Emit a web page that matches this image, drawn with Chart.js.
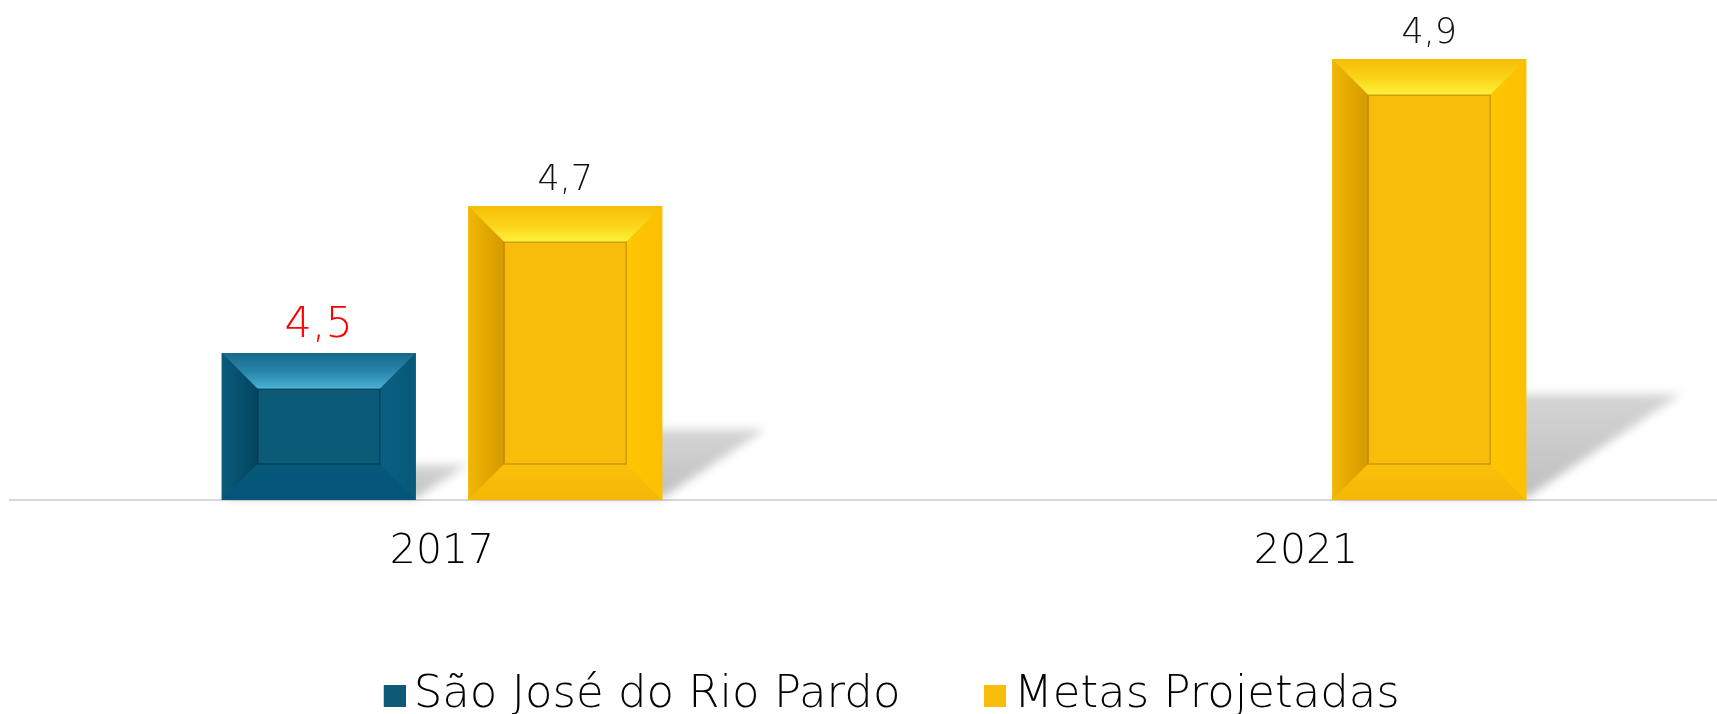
<!DOCTYPE html>
<html><head><meta charset="utf-8">
<script src="https://cdn.jsdelivr.net/npm/chart.js@4/dist/chart.umd.min.js"></script>
<style>
html,body{margin:0;padding:0;background:#fff;overflow:hidden;width:1717px;height:714px;}
#wrap{position:absolute;left:0;top:0;width:1780px;height:728px;}
</style></head><body>
<div id="wrap"><canvas id="c" width="1780" height="728"></canvas></div>
<script>
const categories = ['2017', '2021'];
const seriesNames = ['São José do Rio Pardo', 'Metas Projetadas'];
const saoJoseValues = [4.5, null];
const metasValues = [4.7, 4.9];
const yAxisMin = 4.3;
const yAxisMax = 4.96;

const FONT = '"DejaVu Sans"';
const WEIGHT = '200';
const fmt = v => v.toFixed(1).replace('.', ',');

function swatch(color) {
  const c = document.createElement('canvas');
  c.width = 30; c.height = 22;
  const g = c.getContext('2d');
  g.fillStyle = color; g.fillRect(8, 0, 22, 22);
  return c;
}

const themes = [
  { face: '#0A5A78', top: ['#17688A', '#2A88AC', '#4CB2D5'], left: ['#0B5B7B', '#03445E'], right: ['#0A5F81', '#08597A'], bottom: ['#065979', '#03557A'], line: 'rgba(0,35,55,0.45)', label: '#FF0000', labelSize: 43 },
  { face: '#F8BD0A', top: ['#F5BE06', '#FBD51A', '#FFF23C'], left: ['#F1B605', '#D49A00'], right: ['#FFC603', '#FBC002'], bottom: ['#F9C00C', '#F4B705'], line: 'rgba(160,105,0,0.45)', label: '#111111', labelSize: 35 }
];
const BEVEL = 36;

function barsOf(chart, cb) {
  const floor = chart.chartArea.bottom;
  chart.data.datasets.forEach((ds, di) => {
    const meta = chart.getDatasetMeta(di);
    if (meta.hidden) return;
    meta.data.forEach((el, i) => {
      const v = ds.data[i];
      if (v === null || v === undefined) return;
      const p = el.getProps(['x', 'y', 'base', 'width'], true);
      p.base = Math.min(p.base, floor);
      cb(p, di, v);
    });
  });
}

const shadowPlugin = {
  id: 'shadow',
  beforeDatasetsDraw(chart) {
    const ctx = chart.ctx;
    barsOf(chart, (p) => {
      const h = p.base - p.y;
      const dx = h * 0.35, dy = h * 0.24;
      const l = p.x - p.width / 2, r = p.x + p.width / 2;
      ctx.save();
      ctx.filter = 'blur(5px)';
      const g = ctx.createLinearGradient(0, p.base, 0, p.base - dy);
      g.addColorStop(0, 'rgba(0,0,0,0.25)');
      g.addColorStop(1, 'rgba(0,0,0,0.17)');
      ctx.fillStyle = g;
      ctx.beginPath();
      ctx.moveTo(l, p.base - 2);
      ctx.lineTo(r, p.base - 2);
      ctx.lineTo(r + dx, p.base - dy);
      ctx.lineTo(l + dx, p.base - dy);
      ctx.closePath();
      ctx.fill();
      ctx.restore();
    });
  }
};

function poly(ctx, pts, fill) {
  ctx.beginPath();
  ctx.moveTo(pts[0][0], pts[0][1]);
  for (let k = 1; k < pts.length; k++) ctx.lineTo(pts[k][0], pts[k][1]);
  ctx.closePath();
  ctx.fillStyle = fill;
  ctx.fill();
}

const bevelPlugin = {
  id: 'bevel',
  afterDatasetsDraw(chart) {
    const ctx = chart.ctx;
    barsOf(chart, (p, di) => {
      const t = themes[di];
      const l = p.x - p.width / 2, r = p.x + p.width / 2, tp = p.y, bt = p.base;
      const b = Math.min(BEVEL, (bt - tp) / 2 - 2);
      ctx.save();
      let g = ctx.createLinearGradient(0, tp, 0, tp + b);
      g.addColorStop(0, t.top[0]); g.addColorStop(0.55, t.top[1]); g.addColorStop(1, t.top[2]);
      poly(ctx, [[l, tp], [r, tp], [r - b, tp + b], [l + b, tp + b]], g);
      g = ctx.createLinearGradient(l, 0, l + b, 0);
      g.addColorStop(0, t.left[0]); g.addColorStop(1, t.left[1]);
      poly(ctx, [[l, tp], [l + b, tp + b], [l + b, bt - b], [l, bt]], g);
      g = ctx.createLinearGradient(r - b, 0, r, 0);
      g.addColorStop(0, t.right[0]); g.addColorStop(1, t.right[1]);
      poly(ctx, [[r, tp], [r, bt], [r - b, bt - b], [r - b, tp + b]], g);
      g = ctx.createLinearGradient(0, bt - b, 0, bt);
      g.addColorStop(0, t.bottom[0]); g.addColorStop(1, t.bottom[1]);
      poly(ctx, [[l, bt], [l + b, bt - b], [r - b, bt - b], [r, bt]], g);
      ctx.strokeStyle = t.line;
      ctx.lineWidth = 1.5;
      ctx.strokeRect(l + b, tp + b, r - l - 2 * b, bt - tp - 2 * b);
      ctx.restore();
    });
  }
};

const labelPlugin = {
  id: 'valueLabels',
  afterDatasetsDraw(chart) {
    const ctx = chart.ctx;
    barsOf(chart, (p, di, v) => {
      const t = themes[di];
      ctx.save();
      ctx.font = `${WEIGHT} ${t.labelSize}px ${FONT}`;
      ctx.fillStyle = t.label;
      ctx.textAlign = 'center';
      ctx.textBaseline = 'alphabetic';
      ctx.fillText(fmt(v), p.x, p.y - 16);
      ctx.restore();
    });
  }
};

const chart = new Chart(document.getElementById('c'), {
  type: 'bar',
  data: {
    labels: categories,
    datasets: [
      { label: seriesNames[0], data: saoJoseValues, backgroundColor: themes[0].face, borderWidth: 0, categoryPercentage: 0.5706, barPercentage: 0.787 },
      { label: seriesNames[1], data: metasValues, backgroundColor: themes[1].face, borderWidth: 0, categoryPercentage: 0.5706, barPercentage: 0.787 }
    ]
  },
  options: {
    responsive: false,
    animation: false,
    layout: { padding: { left: 10, right: 0, top: 15, bottom: 0 } },
    plugins: {
      tooltip: { enabled: false },
      legend: {
        position: 'bottom',
        labels: {
          font: { family: FONT, size: 45, weight: WEIGHT },
          color: '#000',
          usePointStyle: true,
          pointStyleWidth: 1,
          boxHeight: 22,
          padding: 90,
          generateLabels(ch) {
            return ch.data.datasets.map((ds, i) => ({
              text: ds.label,
              fillStyle: themes[i].face,
              strokeStyle: themes[i].face,
              lineWidth: 0,
              pointStyle: swatch(themes[i].face),
              hidden: false,
              datasetIndex: i,
              fontColor: '#000'
            }));
          }
        }
      }
    },
    scales: {
      x: {
        type: 'category',
        offset: true,
        grid: { display: false, drawTicks: false },
        border: { display: true, color: '#D9D9D9', width: 2 },
        ticks: { font: { family: FONT, size: 41, weight: WEIGHT }, color: '#000', padding: 28 },
        afterFit(s) { s.height = 83; }
      },
      y: {
        type: 'linear',
        position: 'right',
        min: yAxisMin,
        max: yAxisMax,
        grid: { display: false },
        border: { display: false },
        ticks: { display: false },
        afterFit(s) { s.width = 42; }
      }
    }
  },
  plugins: [shadowPlugin, bevelPlugin, labelPlugin]
});
</script>
</body></html>
